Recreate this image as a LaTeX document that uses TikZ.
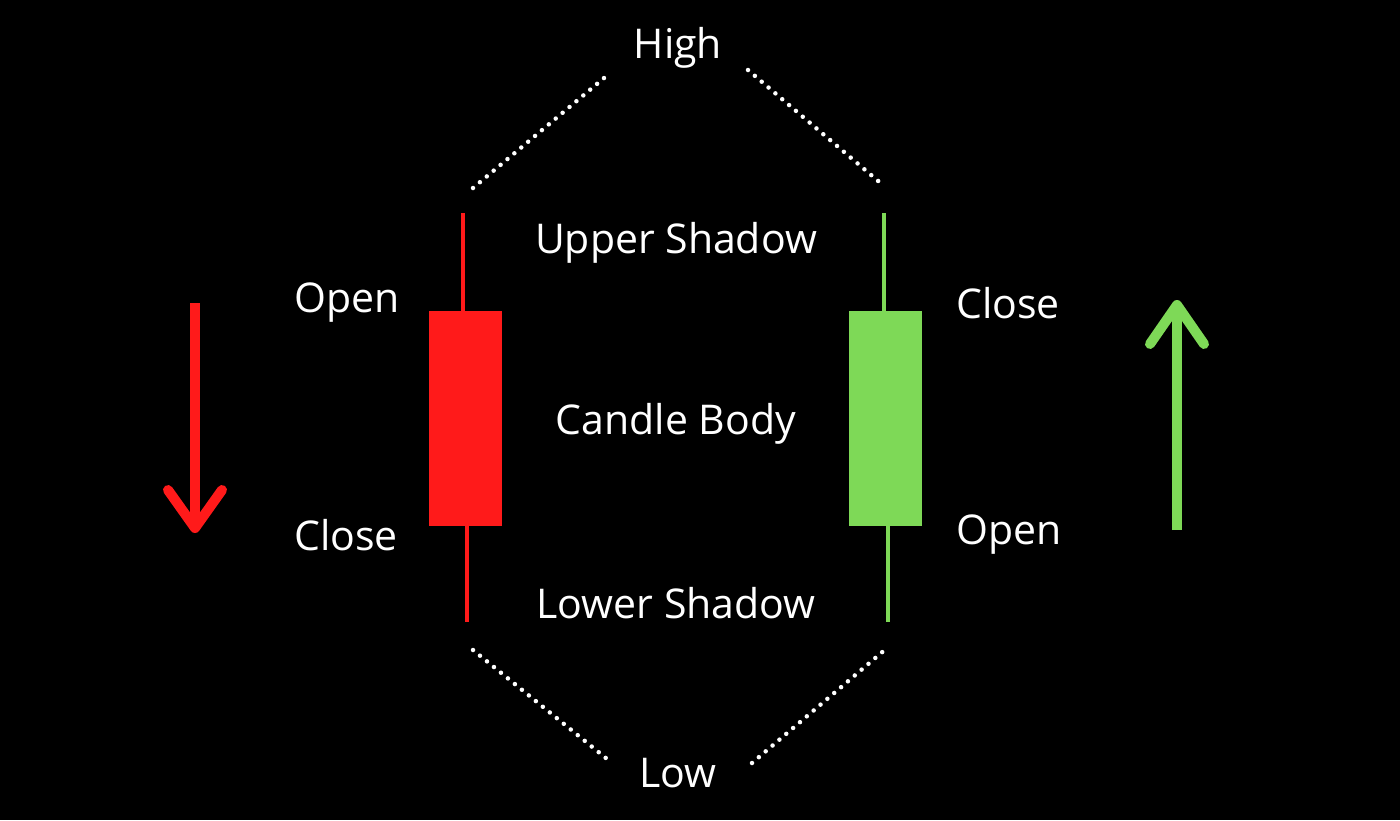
\documentclass[tikz,border=0pt]{standalone}
\usepackage{fontspec}
\setmainfont{Open Sans}
\definecolor{cred}{HTML}{FF1A1A}
\definecolor{cgreen}{HTML}{7ED957}
\begin{document}
\begin{tikzpicture}[x=1pt,y=-1pt,
  lbl/.style={text=white,font=\fontsize{41}{43}\selectfont,inner sep=0pt},
  dots/.style={white,line width=4.5pt,line cap=round,dash pattern=on 0pt off 9pt},
  wick/.style={line width=4pt},
  arr/.style={line width=10pt,line cap=round,line join=round}]
\fill[black] (0,0) rectangle (1400,820);
\useasboundingbox (0,0) rectangle (1400,820);
% red candle
\draw[wick,cred] (463,213) -- (463,311);
\fill[cred] (429,311) rectangle (502,526);
\draw[wick,cred] (467,526) -- (467,622);
% green candle
\draw[wick,cgreen] (884,213) -- (884,311);
\fill[cgreen] (849,311) rectangle (922,526);
\draw[wick,cgreen] (888,526) -- (888,622);
% dotted
\coordinate (d1) at (473,188); \coordinate (d2) at (610,73);
\coordinate (d3) at (748,70); \coordinate (d4) at (884,186);
\coordinate (d5) at (473,650); \coordinate (d6) at (612,763);
\coordinate (d7) at (752,763); \coordinate (d8) at (887,648);
\draw[dots] (d1) -- (d2); \draw[dots] (d3) -- (d4);
\draw[dots] (d5) -- (d6); \draw[dots] (d7) -- (d8);
% labels
\node[lbl] (high) at (678,48) {High};
\node[lbl] (us) at (676,243) {Upper Shadow};
\node[lbl] (cb) at (676,424) {Candle Body};
\node[lbl] (ls) at (676,603) {Lower Shadow};
\node[lbl] (low) at (678,773) {Low};
\node[lbl] (o1) at (347,303) {Open};
\node[lbl] (c1) at (346,535) {Close};
\node[lbl] (c2) at (1008,303) {Close};
\node[lbl] (o2) at (1009,535) {Open};
% arrows
\draw[arr,cred,line cap=butt] (195,303) -- (195,528);
\draw[arr,cred] (168,490) -- (195,528) -- (222,490);
\draw[arr,cgreen,line cap=butt] (1177,530) -- (1177,305);
\draw[arr,cgreen] (1150,344) -- (1177,305) -- (1204,344);
\end{tikzpicture}
\end{document}
